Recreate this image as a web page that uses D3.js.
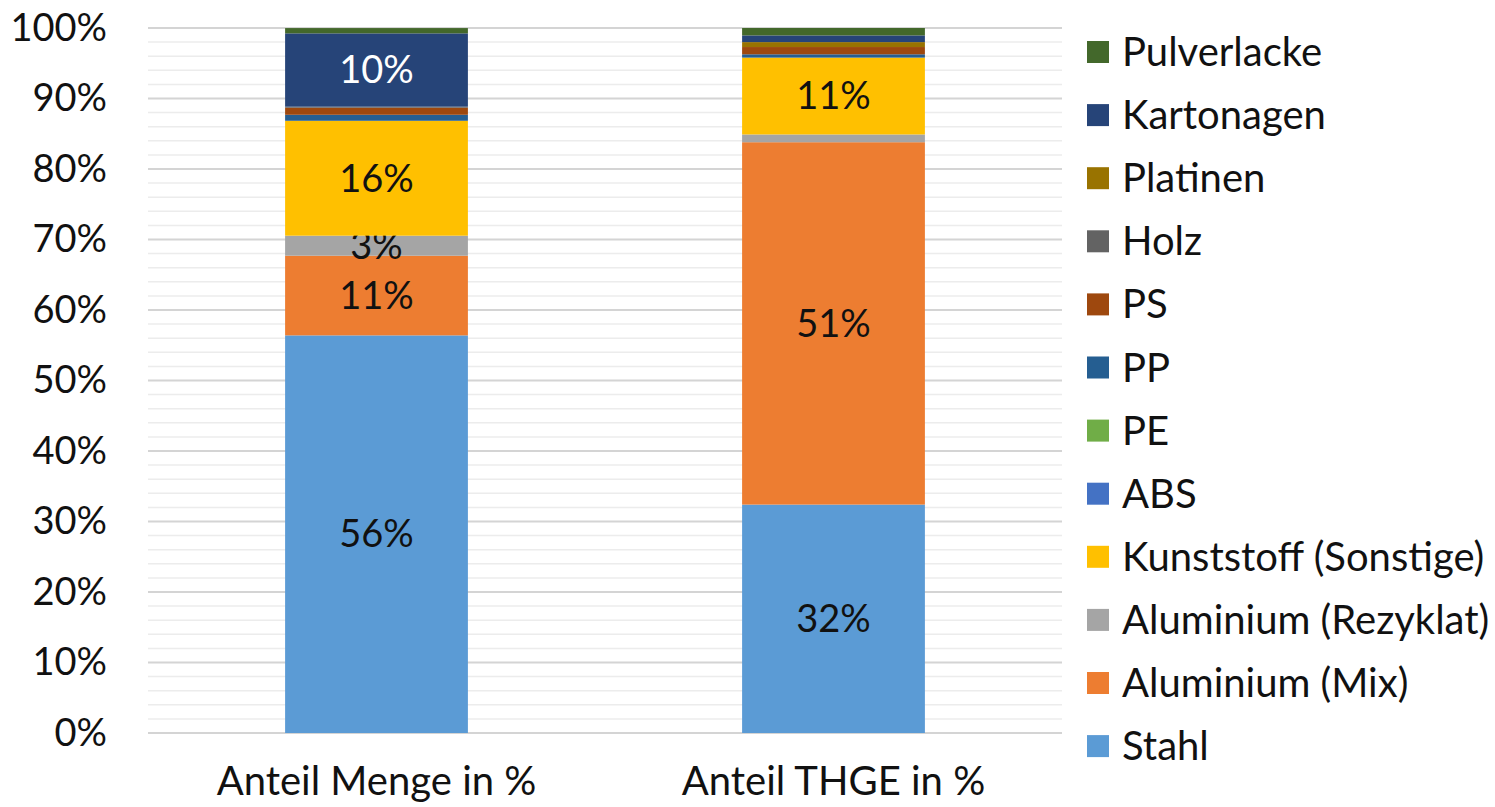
<!DOCTYPE html>
<html>
<head>
<meta charset="utf-8">
<script src="https://cdn.jsdelivr.net/npm/d3@7"></script>
<style>
  body { margin: 0; background: #fff; }
  text { font-family: Lato, "Open Sans", sans-serif; }
</style>
</head>
<body>
<svg width="1495" height="807"></svg>
<script>
// categories on the x axis
var categories = ["Anteil Menge in %", "Anteil THGE in %"];

// stack order, bottom to top
var materials = ["Stahl", "Aluminium (Mix)", "Aluminium (Rezyklat)", "Kunststoff (Sonstige)",
                 "ABS", "PE", "PP", "PS", "Holz", "Platinen", "Kartonagen", "Pulverlacke"];

// share per material (in %), same order as materials
var menge = [56.4, 11.3, 2.84, 16.3, 0, 0, 0.85, 1.0, 0.15, 0, 10.4, 0.75];
var thge  = [32.4, 51.4, 1.1, 10.9, 0, 0, 0.47, 1.03, 0, 0.7, 0.95, 1.05];

var colors = ["#5B9BD5", "#ED7D31", "#A5A5A5", "#FFC000", "#4472C4", "#70AD47",
              "#255E91", "#9E480E", "#636363", "#997300", "#264478", "#43682B"];

var yTicks = [0, 10, 20, 30, 40, 50, 60, 70, 80, 90, 100];

var svg = d3.select("svg"),
    width = +svg.attr("width"),
    height = +svg.attr("height");

var margin = {left: 148, right: 433, top: 28, bottom: 74};

// build rows for d3.stack
var rows = categories.map(function(c, i) {
    var vals = i === 0 ? menge : thge;
    var r = {cat: c};
    materials.forEach(function(m, j) { r[m] = vals[j]; });
    return r;
});

var x = d3.scaleBand()
    .domain(categories)
    .range([margin.left, width - margin.right])
    .paddingInner(0.6)
    .paddingOuter(0.3);

var y = d3.scaleLinear()
    .domain([0, 100])
    .range([height - margin.bottom, margin.top]);

var color = d3.scaleOrdinal().domain(materials).range(colors);

// gridlines: minor every 2 %, major every 10 %
var grid = svg.append("g");
grid.selectAll("line.minor")
    .data(d3.range(0, 101, 2).filter(function(d) { return d % 10 !== 0; }))
  .enter().append("line")
    .attr("x1", x.range()[0]).attr("x2", x.range()[1])
    .attr("y1", function(d) { return y(d); })
    .attr("y2", function(d) { return y(d); })
    .attr("stroke", "#ececec")
    .attr("stroke-width", 1.5);
grid.selectAll("line.major")
    .data(yTicks)
  .enter().append("line")
    .attr("x1", x.range()[0]).attr("x2", x.range()[1])
    .attr("y1", function(d) { return y(d); })
    .attr("y2", function(d) { return y(d); })
    .attr("stroke", "#d4d4d4")
    .attr("stroke-width", 2);

// y axis labels
var yAxis = svg.append("g")
    .attr("transform", "translate(" + 107 + ",0)")
    .call(d3.axisLeft(y).tickValues(yTicks).tickSize(0).tickPadding(0)
        .tickFormat(function(d) { return d + "%"; }));
yAxis.select(".domain").remove();
yAxis.selectAll("text")
    .attr("font-family", "Lato, sans-serif")
    .attr("font-size", 38)
    .attr("fill", "#111");

// stacked bars
var stacked = d3.stack().keys(materials)(rows);
var layers = svg.append("g").selectAll("g")
    .data(stacked)
  .enter().append("g")
    .attr("fill", function(d) { return color(d.key); });

layers.selectAll("rect")
    .data(function(d) { return d; })
  .enter().append("rect")
    .attr("x", function(d) { return x(d.data.cat); })
    .attr("width", x.bandwidth())
    .attr("y", function(d) { return y(d[1]); })
    .attr("height", function(d) { return y(d[0]) - y(d[1]); });

// data labels on the big segments
layers.selectAll("text")
    .data(function(d) { return d.map(function(p) { p.key = d.key; return p; }); })
  .enter()
    .filter(function(d) { return d[1] - d[0] >= 2.5; })
  .append("text")
    .attr("x", function(d) { return x(d.data.cat) + x.bandwidth() / 2; })
    .attr("y", function(d) { return y((d[0] + d[1]) / 2); })
    .attr("dy", "0.35em")
    .attr("text-anchor", "middle")
    .attr("font-size", 38)
    .attr("fill", function(d) { return d.key === "Kartonagen" ? "#fff" : "#111"; })
    .text(function(d) { return Math.round(d[1] - d[0]) + "%"; });

// x axis labels
var xAxis = svg.append("g")
    .attr("transform", "translate(0," + (height - margin.bottom) + ")")
    .call(d3.axisBottom(x).tickSize(0).tickPadding(0));
xAxis.select(".domain").remove();
xAxis.selectAll("text")
    .attr("font-family", "Lato, sans-serif")
    .attr("font-size", 40)
    .attr("fill", "#111")
    .attr("dy", 0)
    .attr("y", 62);

// legend, top to bottom reversed order
var legend = svg.append("g")
    .selectAll("g")
    .data(materials.slice().reverse())
  .enter().append("g")
    .attr("transform", function(d, i) { return "translate(1087," + (52 + i * 63.1) + ")"; });

legend.append("rect")
    .attr("x", 0).attr("y", -11)
    .attr("width", 22).attr("height", 22)
    .attr("fill", function(d) { return color(d); });

legend.append("text")
    .attr("x", 35)
    .attr("dy", "0.35em")
    .attr("font-size", 40)
    .attr("fill", "#111")
    .text(function(d) { return d; });
</script>
</body>
</html>
